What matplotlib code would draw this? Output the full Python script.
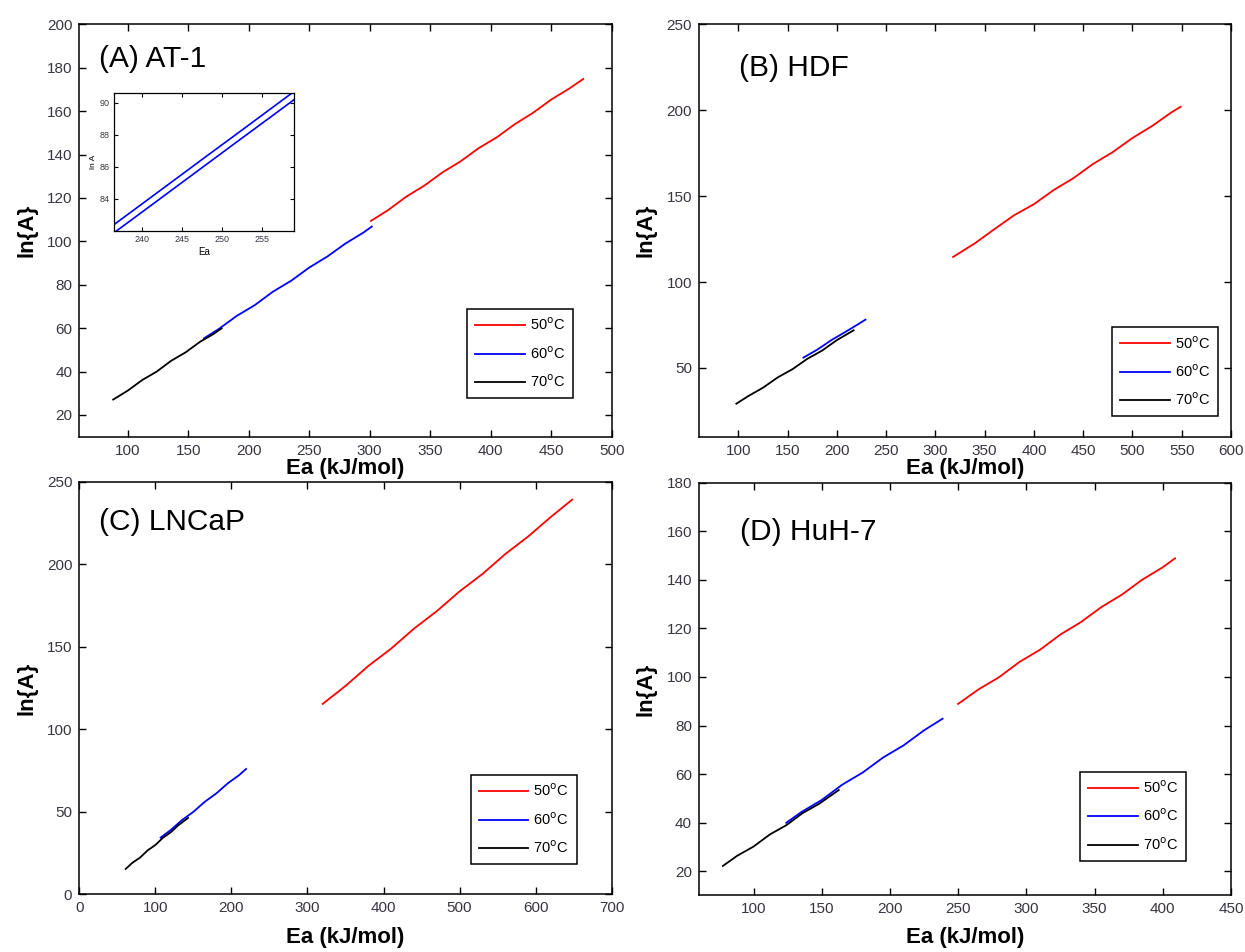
import matplotlib
matplotlib.use("Agg")
import matplotlib.pyplot as plt

plt.rcParams['font.family'] = ['Liberation Sans', 'DejaVu Sans']

# (A) AT-1
a_red_x = [301, 315, 330, 345, 360, 375, 390, 405, 420, 435, 450, 465, 476.5]
a_red_y = [109.4, 114.3, 120.5, 125.6, 131.7, 136.8, 142.9, 147.9, 154.0, 159.2, 165.3, 170.4, 174.8]
a_blue_x = [163, 175, 190, 205, 220, 235, 250, 265, 280, 295, 301.7]
a_blue_y = [55.3, 59.5, 65.6, 70.6, 76.8, 81.8, 87.9, 93.0, 99.0, 104.1, 106.8]
a_black_x = [88, 100, 112, 124, 136, 148, 160, 170, 177.6]
a_black_y = [27.1, 31.2, 36.1, 40.0, 45.0, 48.9, 53.8, 57.0, 59.9]

# inset of (A): two replicate 60 C curves
ins_x = [236.5, 240, 244, 248, 252, 256, 259]
ins_upper = [82.40, 83.69, 85.17, 86.65, 88.12, 89.60, 90.71]
ins_lower = [81.89, 83.18, 84.66, 86.14, 87.62, 89.09, 90.20]

# (B) HDF
b_red_x = [318, 340, 360, 380, 400, 420, 440, 460, 480, 500, 520, 540, 549]
b_red_y = [114.6, 122.5, 130.8, 138.9, 145.3, 153.5, 160.4, 168.7, 175.6, 183.8, 190.8, 198.9, 202.0]
b_blue_x = [166, 180, 195, 210, 220, 229]
b_blue_y = [56.0, 60.6, 66.4, 71.4, 74.9, 78.1]
b_black_x = [98, 110, 125, 140, 155, 170, 185, 200, 217]
b_black_y = [29.2, 33.6, 38.5, 44.5, 49.3, 55.3, 60.1, 66.2, 71.9]

# (C) LNCaP
c_red_x = [320, 350, 380, 410, 440, 470, 500, 530, 560, 590, 620, 648]
c_red_y = [115.5, 126.4, 138.5, 149.0, 161.1, 171.7, 183.7, 194.2, 206.3, 216.9, 228.8, 239.3]
c_blue_x = [107, 120, 135, 150, 165, 180, 195, 210, 219.3]
c_blue_y = [34.5, 39.0, 45.1, 50.1, 56.2, 61.2, 67.3, 72.3, 76.1]
c_black_x = [61, 70, 80, 90, 100, 110, 120, 130, 143]
c_black_y = [15.5, 19.3, 22.4, 26.8, 30.0, 34.4, 37.6, 41.9, 46.4]

# (D) HuH-7
d_red_x = [250, 265, 280, 295, 310, 325, 340, 355, 370, 385, 400, 409]
d_red_y = [88.9, 94.9, 99.9, 106.2, 111.2, 117.5, 122.6, 128.8, 133.9, 140.1, 145.2, 148.9]
d_blue_x = [124, 135, 150, 165, 180, 195, 210, 225, 238.6]
d_blue_y = [39.9, 44.3, 49.3, 55.6, 60.6, 66.8, 71.8, 78.0, 82.8]
d_black_x = [77.5, 88, 100, 112, 124, 136, 148, 162.5]
d_black_y = [22.1, 26.3, 30.1, 35.1, 38.9, 43.9, 47.7, 53.4]

labels = ['50$^{\\rm o}$C', '60$^{\\rm o}$C', '70$^{\\rm o}$C']
colors = ['#ff0000', '#0000ff', '#000000']

panels = [
    dict(pos=[0.0637, 0.5413, 0.4276, 0.4332], title='(A) AT-1', tpos=(0.037, 0.916),
         xlim=(60, 500), ylim=(10, 200), xt=range(100, 501, 50), yt=range(20, 201, 20),
         series=[(a_red_x, a_red_y), (a_blue_x, a_blue_y), (a_black_x, a_black_y)],
         leg=(0.927, 0.094), xpad=0),
    dict(pos=[0.5614, 0.5413, 0.4273, 0.4332], title='(B) HDF', tpos=(0.075, 0.894),
         xlim=(60, 600), ylim=(10, 250), xt=range(100, 601, 50), yt=range(50, 251, 50),
         series=[(b_red_x, b_red_y), (b_blue_x, b_blue_y), (b_black_x, b_black_y)],
         leg=(0.976, 0.050), xpad=0),
    dict(pos=[0.0637, 0.0604, 0.4276, 0.4333], title='(C) LNCaP', tpos=(0.037, 0.904),
         xlim=(0, 700), ylim=(0, 250), xt=range(0, 701, 100), yt=range(0, 251, 50),
         series=[(c_red_x, c_red_y), (c_blue_x, c_blue_y), (c_black_x, c_black_y)],
         leg=(0.934, 0.074), xpad=8),
    dict(pos=[0.5614, 0.0595, 0.4273, 0.4333], title='(D) HuH-7', tpos=(0.078, 0.882),
         xlim=(60, 450), ylim=(10, 180), xt=range(100, 451, 50), yt=range(20, 181, 20),
         series=[(d_red_x, d_red_y), (d_blue_x, d_blue_y), (d_black_x, d_black_y)],
         leg=(0.916, 0.084), xpad=8),
]

fig = plt.figure(figsize=(12.45, 9.52), dpi=100)

for p in panels:
    ax = fig.add_axes(p['pos'])
    for (x, y), c, lab in zip(p['series'], colors, labels):
        ax.plot(x, y, color=c, lw=1.3, label=lab)
    ax.set_xlim(*p['xlim'])
    ax.set_ylim(*p['ylim'])
    ax.set_xticks(list(p['xt']))
    ax.set_yticks(list(p['yt']))
    ax.tick_params(direction='in', top=True, right=True, length=5, width=1,
                   labelsize=11, labelcolor='#3a3440', pad=5)
    for s in ax.spines.values():
        s.set_linewidth(1.1)
    ax.set_xlabel('Ea (kJ/mol)', fontsize=16, fontweight='bold', labelpad=p['xpad'])
    ax.set_ylabel('ln{A}', fontsize=16, fontweight='bold', labelpad=7)
    ax.text(p['tpos'][0], p['tpos'][1], p['title'], transform=ax.transAxes,
            fontsize=21.5, va='center', ha='left')
    leg = ax.legend(loc='lower right', bbox_to_anchor=p['leg'], fontsize=10.5,
                    fancybox=False, framealpha=1, edgecolor='black',
                    handlelength=3.4, labelspacing=0.8, borderpad=0.55,
                    handletextpad=0.35, borderaxespad=0)
    leg.get_frame().set_linewidth(1.1)

# inset in panel (A)
ins = fig.add_axes([114 / 1245, 1 - 231 / 952, 180 / 1245, 137.7 / 952])
ins.plot(ins_x, ins_upper, color='#0000ff', lw=1.2)
ins.plot(ins_x, ins_lower, color='#0000ff', lw=1.2)
ins.set_xlim(236.5, 259)
ins.set_ylim(82, 90.6)
ins.set_xticks([240, 245, 250, 255])
ins.set_yticks([84, 86, 88, 90])
ins.tick_params(direction='in', top=True, right=True, length=3, width=0.8,
                labelsize=6.5, labelcolor='#3a3440', pad=3)
for s in ins.spines.values():
    s.set_linewidth(0.9)
ins.set_xlabel('Ea', fontsize=7, labelpad=2)
ins.set_ylabel('ln A', fontsize=6, labelpad=2)

fig.savefig('out.png', dpi=100)
